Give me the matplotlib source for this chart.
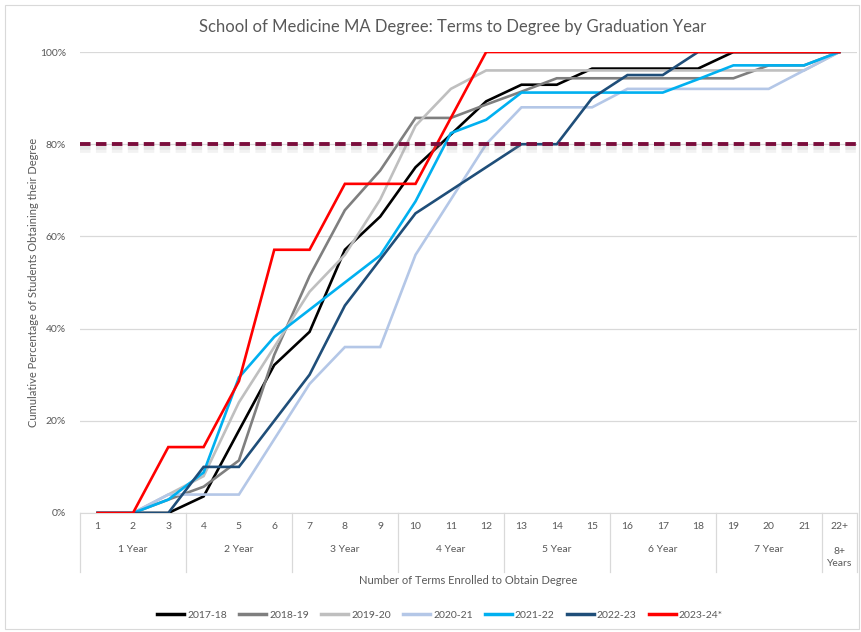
import matplotlib
matplotlib.use("Agg")
import matplotlib.pyplot as plt
import matplotlib.patheffects as pe
from matplotlib.patches import Rectangle
from matplotlib.lines import Line2D

plt.rcParams['font.family'] = ['Lato', 'DejaVu Sans']

terms = ["1", "2", "3", "4", "5", "6", "7", "8", "9", "10", "11", "12", "13", "14",
         "15", "16", "17", "18", "19", "20", "21", "22+"]
year_groups = ["1 Year", "2 Year", "3 Year", "4 Year", "5 Year", "6 Year", "7 Year", "8+\nYears"]
group_sizes = [3, 3, 3, 3, 3, 3, 3, 1]

s2017 = [0, 0, 0, 3.6, 17.9, 32.1, 39.3, 57.1, 64.3, 75.0, 82.1, 89.3, 92.9, 92.9, 96.4, 96.4, 96.4, 96.4, 100, 100, 100, 100]
s2018 = [0, 0, 2.9, 5.7, 11.4, 34.3, 51.4, 65.7, 74.3, 85.7, 85.7, 88.6, 91.4, 94.3, 94.3, 94.3, 94.3, 94.3, 94.3, 97.1, 97.1, 100]
s2019 = [0, 0, 4, 8, 24, 36, 48, 56, 68, 84, 92, 96, 96, 96, 96, 96, 96, 96, 96, 96, 96, 100]
s2020 = [0, 0, 4, 4, 4, 16, 28, 36, 36, 56, 68, 80, 88, 88, 88, 92, 92, 92, 92, 92, 96, 100]
s2021 = [0, 0, 2.9, 8.8, 29.4, 38.2, 44.1, 50.0, 55.9, 67.6, 82.4, 85.3, 91.2, 91.2, 91.2, 91.2, 91.2, 94.1, 97.1, 97.1, 97.1, 100]
s2022 = [0, 0, 0, 10, 10, 20, 30, 45, 55, 65, 70, 75, 80, 80, 90, 95, 95, 100, 100, 100, 100, 100]
s2023 = [0, 0, 14.3, 14.3, 28.6, 57.1, 57.1, 71.4, 71.4, 71.4, 85.7, 100, 100, 100, 100, 100, 100, 100, 100, 100, 100, 100]

series_names = ["2017-18", "2018-19", "2019-20", "2020-21", "2021-22", "2022-23", "2023-24*"]
series_values = [s2017, s2018, s2019, s2020, s2021, s2022, s2023]
series_colors = ["#000000", "#7f7f7f", "#bfbfbf", "#b4c7e7", "#00b0f0", "#1f4e79", "#ff0000"]
target = 80

W, H = 862, 632
fig = plt.figure(figsize=(W / 100, H / 100), dpi=100)
fig.patches.append(Rectangle((5 / W, 3 / H), 854 / W, 624 / H, transform=fig.transFigure,
                             fill=False, edgecolor="#d9d9d9", linewidth=0.8))

ax = fig.add_axes([80 / W, (H - 513) / H, 777 / W, 461 / H])
txt = "#595959"
grid = "#d9d9d9"

x = list(range(1, len(terms) + 1))
for name, vals, col in zip(series_names, series_values, series_colors):
    ax.plot(x, vals, color=col, linewidth=1.9, label=name, solid_joinstyle="miter", zorder=3)

ax.axhline(target, color="#7b0d3c", linewidth=2.8, dashes=(2.7, 1.4), zorder=4,
           path_effects=[pe.SimpleLineShadow(offset=(0, -2.5), shadow_color="#888888", alpha=0.10, linewidth=7),
                         pe.SimpleLineShadow(offset=(0, -2), shadow_color="#888888", alpha=0.12, linewidth=4),
                         pe.Normal()])

ax.set_xlim(0.5, len(terms) + 0.5)
ax.set_ylim(0, 100)
ax.set_yticks([0, 20, 40, 60, 80, 100])
ax.set_yticklabels([f"{v}%" for v in [0, 20, 40, 60, 80, 100]], color=txt, fontsize=7.5)
ax.yaxis.grid(True, color=grid, linewidth=0.9)
ax.set_axisbelow(True)
ax.tick_params(axis="y", length=0, pad=10)
ax.set_xticks([])
for s in ["top", "right", "left"]:
    ax.spines[s].set_visible(False)
ax.spines["bottom"].set_color(grid)

tr = ax.get_xaxis_transform()
for xi, lab in zip(x, terms):
    ax.text(xi, -0.030, lab, transform=tr, ha="center", va="center", fontsize=7.5, color=txt)

start = 0.5
bounds = [start]
for gname, gs in zip(year_groups, group_sizes):
    center = start + gs / 2
    if "\n" in gname:
        ax.text(center, -0.097, gname, transform=tr, ha="center", va="center", fontsize=7.5,
                color=txt, linespacing=1.5)
    else:
        ax.text(center, -0.080, gname, transform=tr, ha="center", va="center", fontsize=7.5, color=txt)
    start += gs
    bounds.append(start)
for b in bounds:
    ax.add_line(Line2D([b, b], [0, -0.128], transform=tr, color=grid, linewidth=0.9, clip_on=False))

fig.text(34 / W, 1 - 282 / H, "Cumulative Percentage of Students Obtaining their Degree", rotation=90,
         ha="center", va="center", color=txt, fontsize=8)
fig.text(468 / W, 1 - 580 / H, "Number of Terms Enrolled to Obtain Degree", ha="center", va="center",
         color=txt, fontsize=8)
fig.text(453 / W, 1 - 27 / H, "School of Medicine MA Degree: Terms to Degree by Graduation Year",
         ha="center", va="center", color=txt, fontsize=12)

leg = fig.legend(*ax.get_legend_handles_labels(), loc="center", bbox_to_anchor=(440 / W, 1 - 615 / H),
                 ncol=7, frameon=False, fontsize=7.5, handlelength=2.6, handletextpad=0.3,
                 columnspacing=1.15, labelcolor=txt)
for h in leg.get_lines():
    h.set_linewidth(2.5)

fig.savefig("out.png", dpi=100)
